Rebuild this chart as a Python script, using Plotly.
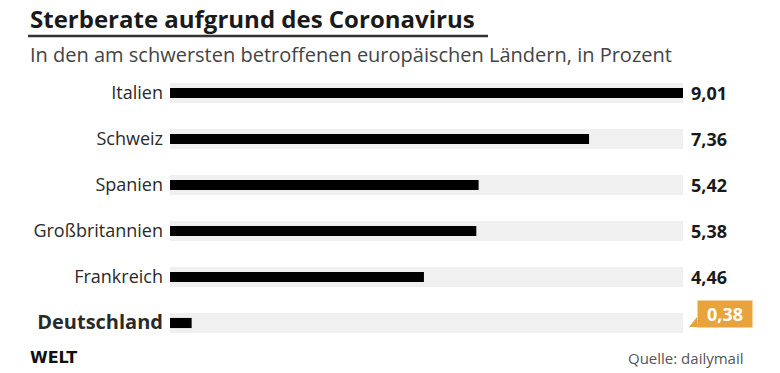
import plotly.graph_objects as go

countries = ["Italien", "Schweiz", "Spanien", "Großbritannien", "Frankreich", "Deutschland"]
rates = [9.01, 7.36, 5.42, 5.38, 4.46, 0.38]
value_labels = ["9,01", "7,36", "5,42", "5,38", "4,46", "0,38"]
highlight = "Deutschland"

W, H = 780, 373
FONT = "'Open Sans', 'Noto Sans', sans-serif"

def px(x):
    return x / W

def py(y):
    return 1 - y / H

vmax = max(rates)
ticktext = [f"<span style='font-size:20px'><b>{c}</b></span>" if c == highlight else c for c in countries]

fig = go.Figure()
fig.add_trace(go.Bar(
    y=countries, x=[vmax] * len(countries), orientation="h",
    marker=dict(color="#f0f0f0", line=dict(width=0)), width=0.44,
    hoverinfo="skip", showlegend=False,
))
fig.add_trace(go.Bar(
    y=countries, x=rates, orientation="h",
    marker=dict(color="#000000", line=dict(width=0)), width=0.22,
    showlegend=False,
))

annotations = []
for c, v, lab in zip(countries, rates, value_labels):
    if c == highlight:
        annotations.append(dict(
            x=vmax, y=c, xref="x", yref="y", text=f"<b>{lab}</b>",
            showarrow=False, xanchor="left", yanchor="middle", xshift=14, yshift=9,
            font=dict(family=FONT, size=18, color="white"),
            bgcolor="#e9a33c", width=52, height=24, align="center",
        ))
    else:
        annotations.append(dict(
            x=vmax, y=c, xref="x", yref="y", text=f"<b>{lab}</b>",
            showarrow=False, xanchor="left", yanchor="middle", xshift=6,
            font=dict(family=FONT, size=18, color="#1a1a1a"),
        ))

annotations += [
    dict(x=px(28), y=py(18), xref="paper", yref="paper", xanchor="left", yanchor="middle",
         text="<b>Sterberate aufgrund des Coronavirus</b>", showarrow=False,
         font=dict(family=FONT, size=24, color="#1a1a1a")),
    dict(x=px(28), y=py(55), xref="paper", yref="paper", xanchor="left", yanchor="middle",
         text="In den am schwersten betroffenen europäischen Ländern, in Prozent", showarrow=False,
         font=dict(family=FONT, size=20, color="#444444")),
    dict(x=px(28), y=py(357), xref="paper", yref="paper", xanchor="left", yanchor="middle",
         text="<b>WELT</b>", showarrow=False,
         font=dict(family="'DejaVu Sans', sans-serif", size=16, color="#111111")),
    dict(x=px(746), y=py(358), xref="paper", yref="paper", xanchor="right", yanchor="middle",
         text="Quelle: dailymail", showarrow=False,
         font=dict(family=FONT, size=15, color="#555555")),
]

shapes = [
    dict(type="line", xref="paper", yref="paper", x0=px(28), x1=px(488), y0=py(36), y1=py(36),
         line=dict(color="#333333", width=2.5)),
    dict(type="path", xref="paper", yref="paper",
         path=f"M {px(697)} {py(317)} L {px(689)} {py(327)} L {px(698)} {py(327)} Z",
         fillcolor="#e9a33c", line=dict(width=0)),
]

fig.update_layout(
    width=W, height=H,
    margin=dict(l=0, r=0, t=0, b=0),
    paper_bgcolor="white", plot_bgcolor="white",
    barmode="overlay",
    font=dict(family=FONT, size=16, color="#333333"),
    xaxis=dict(domain=[px(170), px(683)], range=[0, vmax], visible=False, fixedrange=True),
    yaxis=dict(domain=[py(346), py(70)], range=[len(countries) - 0.5, -0.5],
               tickmode="array", tickvals=countries, ticktext=ticktext,
               showgrid=False, zeroline=False, showline=False, ticks="",
               ticklabelstandoff=6, tickfont=dict(family=FONT, size=18, color="#2a2a2a")),
    annotations=annotations,
    shapes=shapes,
)

fig.write_html("out.html", config={"displayModeBar": False},
               post_script="document.body.style.margin='0';document.body.style.padding='0';")
